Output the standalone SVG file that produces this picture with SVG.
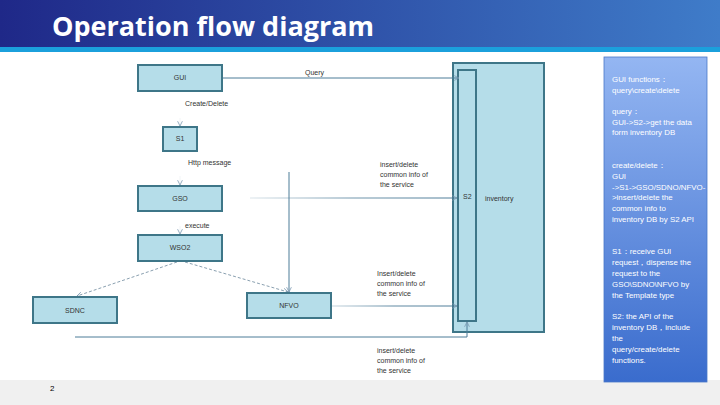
<svg xmlns="http://www.w3.org/2000/svg" width="720" height="405" viewBox="0 0 720 405">
<style>
.box{fill:#b5dde9;stroke:#3e7688;stroke-width:2}
.t{font-family:"Liberation Sans",Arial,sans-serif;font-size:7px;fill:#333}
.c{text-anchor:middle}
.pt{font-family:"Liberation Sans",Arial,sans-serif;font-size:7.9px;fill:#ffffff}
.ln{fill:none;stroke:#4d7c98;stroke-width:1}
.ds{fill:none;stroke:#8aa0b0;stroke-width:1;stroke-dasharray:3 2}
</style>
<defs>
<linearGradient id="hdr" x1="0" y1="0" x2="1" y2="0">
<stop offset="0" stop-color="#1f2888"/>
<stop offset="1" stop-color="#3f7cc9"/>
</linearGradient>
<linearGradient id="pnl" x1="0" y1="0" x2="0" y2="1">
<stop offset="0" stop-color="#94b6f2"/>
<stop offset="1" stop-color="#3a6ccd"/>
</linearGradient>
<linearGradient id="fadeA" gradientUnits="userSpaceOnUse" x1="250" y1="0" x2="457" y2="0">
<stop offset="0" stop-color="#4d7c98" stop-opacity="0.2"/>
<stop offset="0.5" stop-color="#4d7c98" stop-opacity="0.8"/>
<stop offset="1" stop-color="#4d7c98"/>
</linearGradient>
<linearGradient id="fadeB" gradientUnits="userSpaceOnUse" x1="331" y1="0" x2="457" y2="0">
<stop offset="0" stop-color="#4d7c98" stop-opacity="0.3"/>
<stop offset="0.5" stop-color="#4d7c98" stop-opacity="0.9"/>
<stop offset="1" stop-color="#4d7c98"/>
</linearGradient>
<marker id="ar" viewBox="0 0 10 10" refX="9" refY="5" markerWidth="6" markerHeight="6" orient="auto" markerUnits="userSpaceOnUse">
<path d="M1,1 L9,5 L1,9" fill="none" stroke="#7a98b0" stroke-width="1.3"/>
</marker>
</defs>

<rect x="0" y="0" width="720" height="47" fill="url(#hdr)"/>
<rect x="0" y="47" width="720" height="5" fill="#1ba0dc"/>
<text x="52" y="36" font-family="'Open Sans','Noto Sans',sans-serif" font-weight="bold" font-size="27" fill="#ffffff">Operation flow diagram</text>

<rect x="0" y="380" width="720" height="25" fill="#f0f0f0"/>
<text x="50" y="391" font-family="'Liberation Sans',Arial,sans-serif" font-size="8" fill="#000">2</text>

<g id="panel">
<rect x="604" y="57" width="103" height="325" fill="url(#pnl)" stroke="#4a78c8" stroke-width="0.8"/>
<text class="pt" x="612" y="82">GUI functions：</text>
<text class="pt" x="612" y="93">query\create\delete</text>
<text class="pt" x="612" y="114">query：</text>
<text class="pt" x="612" y="125">GUI-&gt;S2-&gt;get the data</text>
<text class="pt" x="612" y="135">form inventory DB</text>
<text class="pt" x="612" y="168">create/delete：</text>
<text class="pt" x="612" y="179">GUI</text>
<text class="pt" x="612" y="190">-&gt;S1-&gt;GSO/SDNO/NFVO-</text>
<text class="pt" x="612" y="200">&gt;insert/delete the</text>
<text class="pt" x="612" y="211">common info to</text>
<text class="pt" x="612" y="222">inventory DB by S2 API</text>
<text class="pt" x="612" y="254">S1：receive GUI</text>
<text class="pt" x="612" y="265">request，dispense the</text>
<text class="pt" x="612" y="276">request to the</text>
<text class="pt" x="612" y="287">GSO\SDNO\NFVO by</text>
<text class="pt" x="612" y="298">the Template type</text>
<text class="pt" x="612" y="319">S2: the API of the</text>
<text class="pt" x="612" y="330">inventory DB，include</text>
<text class="pt" x="612" y="341">the</text>
<text class="pt" x="612" y="352">query/create/delete</text>
<text class="pt" x="612" y="363">functions.</text>
</g>

<g id="inventory">
<rect class="box" x="453" y="63" width="91" height="269"/>
<text class="t" x="485" y="201">inventory</text>
</g>
<g id="S2">
<rect class="box" x="458" y="70" width="18" height="251"/>
<text class="t" x="463" y="199">S2</text>
</g>

<g id="connectors">
<line class="ln" x1="222" y1="78" x2="459" y2="78" marker-end="url(#ar)"/>
<line x1="180" y1="118" x2="180" y2="126" stroke="#f2f5f7" stroke-width="1" marker-end="url(#ar)"/>
<line x1="180" y1="176" x2="180" y2="185" stroke="#f2f5f7" stroke-width="1" marker-end="url(#ar)"/>
<line x1="180" y1="226" x2="180" y2="234" stroke="#f2f5f7" stroke-width="1" marker-end="url(#ar)"/>
<line x1="250" y1="198" x2="457" y2="198" stroke="url(#fadeA)" stroke-width="1" marker-end="url(#ar)"/>
<line class="ln" x1="289" y1="172" x2="289" y2="292" marker-end="url(#ar)"/>
<line class="ds" x1="177" y1="262" x2="77" y2="296" marker-end="url(#ar)"/>
<line class="ds" x1="185" y1="262" x2="288" y2="292" marker-end="url(#ar)"/>
<line x1="331" y1="306" x2="457" y2="306" stroke="url(#fadeB)" stroke-width="1" marker-end="url(#ar)"/>
<polyline class="ln" points="75,337 467,337 467,322" marker-end="url(#ar)"/>
<text class="t" x="305" y="75">Query</text>
<text class="t" x="185" y="106">Create/Delete</text>
<text class="t" x="188" y="165">Http message</text>
<text class="t" x="185" y="228">execute</text>
<text class="t" x="380" y="167">insert/delete</text>
<text class="t" x="380" y="177">common info of</text>
<text class="t" x="380" y="187">the service</text>
<text class="t" x="377" y="276">Insert/delete</text>
<text class="t" x="377" y="286">common info of</text>
<text class="t" x="377" y="296">the service</text>
<text class="t" x="377" y="353">insert/delete</text>
<text class="t" x="377" y="363">common info of</text>
<text class="t" x="377" y="373">the service</text>
</g>

<g id="GUI"><rect class="box" x="138" y="65" width="84" height="26"/><text class="t c" x="180" y="80">GUI</text></g>
<g id="S1"><rect class="box" x="163" y="127" width="34" height="24"/><text class="t c" x="180" y="141">S1</text></g>
<g id="GSO"><rect class="box" x="138" y="186" width="84" height="25"/><text class="t c" x="180" y="201">GSO</text></g>
<g id="WSO2"><rect class="box" x="138" y="235" width="84" height="26"/><text class="t c" x="180" y="250">WSO2</text></g>
<g id="SDNC"><rect class="box" x="33" y="297" width="84" height="26"/><text class="t c" x="75" y="313">SDNC</text></g>
<g id="NFVO"><rect class="box" x="247" y="293" width="84" height="25"/><text class="t c" x="289" y="308">NFVO</text></g>
</svg>
